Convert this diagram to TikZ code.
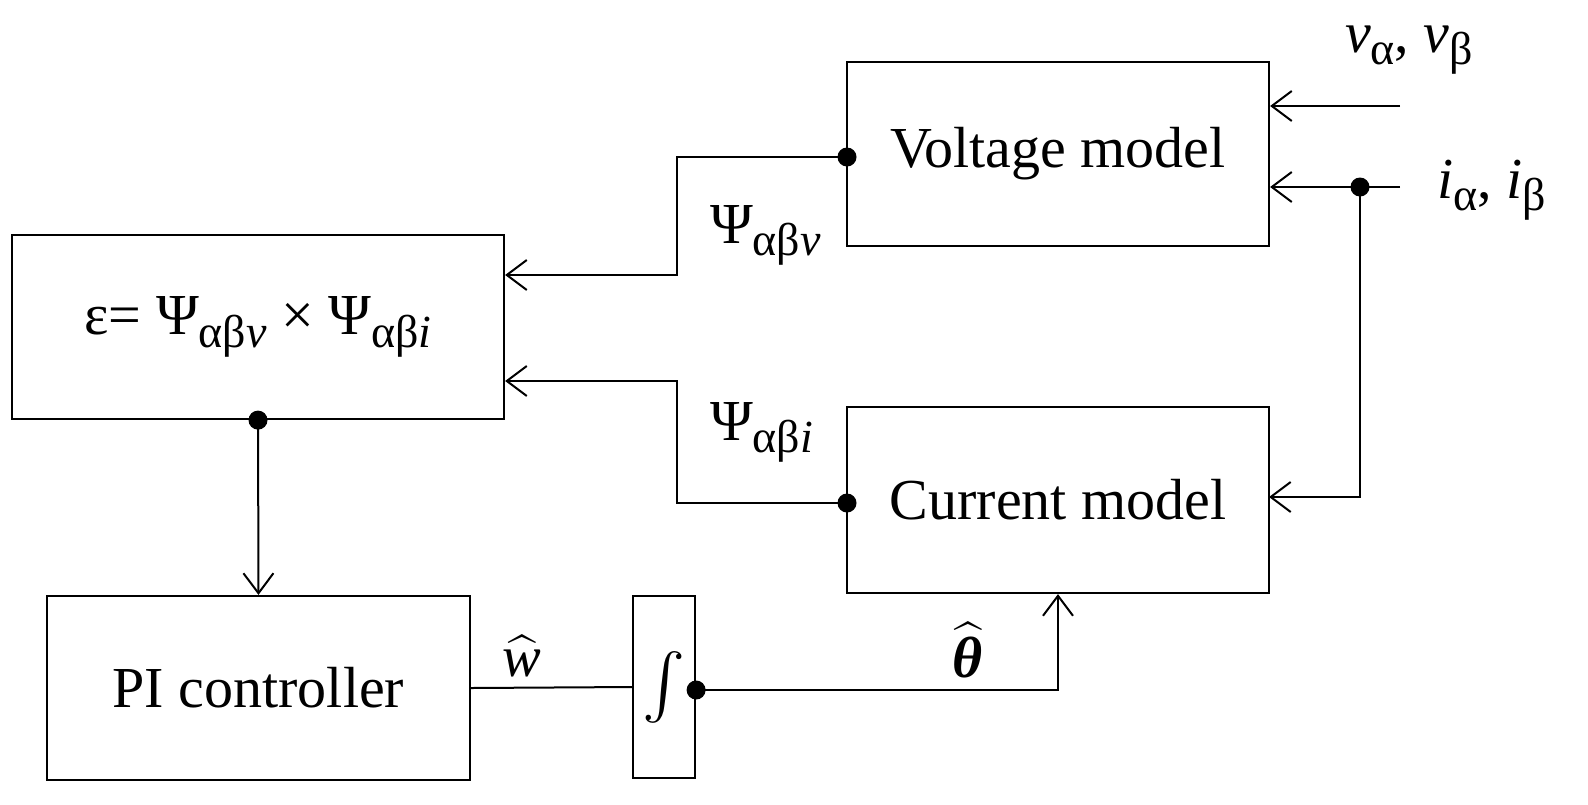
\documentclass[tikz,border=0pt]{standalone}
\usepackage{amsmath}
\usepackage{fontspec}
\setmainfont{Liberation Serif}
\usetikzlibrary{arrows.meta}
\newcommand\sbs[1]{\raisebox{-0.22em}{\fontsize{23}{26}\selectfont #1}}
\begin{document}
\begin{tikzpicture}[x=0.5pt,y=-0.5pt,
  every node/.style={font=\fontsize{29}{34}\selectfont},
  blk/.style={draw,line width=1.1pt,inner sep=0pt},
  wire/.style={line width=1pt},
  arr/.style={wire,-{Straight Barb[length=10pt,width=15pt,line width=1pt]}},
  dot/.style={circle,fill,inner sep=0pt,minimum size=9.5pt}]
\path[use as bounding box,fill=white] (0,0) rectangle (1588,804);
% blocks
\node[blk,minimum width=211pt,minimum height=92pt] (volt) at (1058,154) {Voltage model};
\node[blk,minimum width=211pt,minimum height=93pt] (curr) at (1058,500) {Current model};
\node[blk,minimum width=246pt,minimum height=92pt] (eps) at (258,327)
  {ε= Ψ\sbs{αβ\textit{v}} × Ψ\sbs{αβ\textit{i}}};
\node[blk,minimum width=211.5pt,minimum height=92pt] (pi) at (258.5,688) {PI controller};
\node[blk,minimum width=31pt,minimum height=91pt] (integ) at (664,687) {\scalebox{1.3}{$\int$}};
% inputs
\coordinate (vin) at (1400,106);
\coordinate (iin) at (1400,187);
\coordinate (idot) at (1360,187);
\coordinate (cin) at (1269,497);
\draw[arr] (vin) -- (volt.east |- vin);
\draw[arr] (iin) -- (volt.east |- iin);
\draw[arr] (idot) |- (cin);
\node[dot] (idotn) at (idot) {};
\node[anchor=base west] (vlab) at (1338,52) {\textit{v}\sbs{α}, \textit{v}\sbs{β}};
\node[anchor=base west] (ilab) at (1430,198) {\textit{i}\sbs{α}, \textit{i}\sbs{β}};
% voltage model output
\coordinate (vout) at (847,157);
\coordinate (jv) at (677,275);
\draw[arr] (vout) -| (jv) -- (jv -| eps.east);
\node[dot] (voutn) at (vout) {};
\node[anchor=base west] (psiv) at (703,243) {Ψ\sbs{αβ\textit{v}}};
% current model output
\coordinate (cout) at (847,503);
\coordinate (ji) at (677,381);
\draw[arr] (cout) -| (ji) -- (ji -| eps.east);
\node[dot] (coutn) at (cout) {};
\node[anchor=base west] (psii) at (703,440) {Ψ\sbs{αβ\textit{i}}};
% epsilon to PI
\draw[arr] (eps.south) -- (pi.north);
\node[dot] (epsdot) at (eps.south) {};
% PI to integrator
\draw[wire] (pi.east) -- (integ.west);
\node (wlab) at (522,656) {$\widehat{\textit{w}}$};
% integrator to current model
\coordinate (iout) at (integ.east |- 0,690);
\draw[arr] (iout) -| (curr.south);
\node[dot] (ioutn) at (iout) {};
\node (tlab) at (968,650) {$\widehat{\text{\textbf{\textit{θ}}}}$};
\end{tikzpicture}
\end{document}
